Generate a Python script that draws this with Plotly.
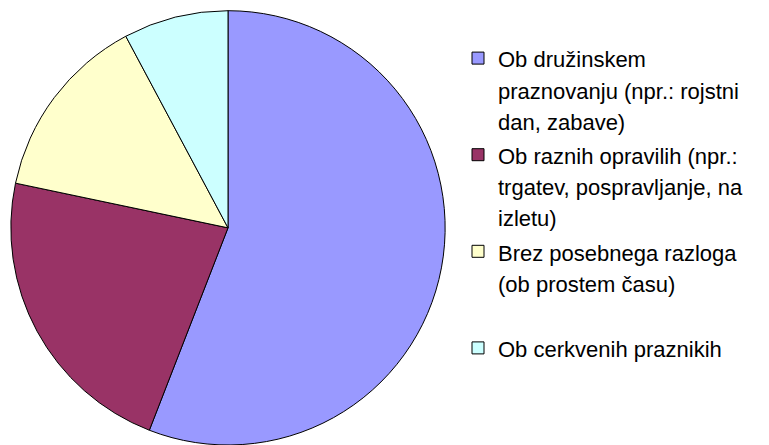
import plotly.graph_objects as go

labels = [
    "Ob družinskem<br>praznovanju (npr.: rojstni<br>dan, zabave)",
    "Ob raznih opravilih (npr.:<br>trgatev, pospravljanje, na<br>izletu)",
    "Brez posebnega razloga<br>(ob prostem času)<br> ",
    "Ob cerkvenih praznikih<br> <br> ",
]
values = [55.9, 22.4, 13.9, 7.8]
colors = ["#9999FF", "#993366", "#FFFFCC", "#CCFFFF"]

W, H = 769, 445
fig = go.Figure(go.Pie(
    labels=[f'<span style="font-size:22px">{l}</span>' for l in labels],
    values=values,
    sort=False,
    direction="clockwise",
    rotation=0,
    textinfo="none",
    hoverinfo="label+percent",
    marker=dict(colors=colors, line=dict(color="#000000", width=1)),
    domain=dict(x=[10.7 / W, 445.3 / W], y=[0, 1 - 10.7 / H]),
))
fig.update_layout(
    width=W, height=H,
    margin=dict(l=0, r=0, t=0, b=0),
    paper_bgcolor="white",
    plot_bgcolor="white",
    showlegend=True,
    legend=dict(
        x=458 / W, xanchor="left",
        y=1 - 36 / H, yanchor="top",
        font=dict(family="Liberation Sans, Arial, sans-serif", size=24, color="#000000"),
        valign="top",
        itemwidth=30,
        bgcolor="rgba(0,0,0,0)",
        tracegroupgap=0,
    ),
)
fig.write_html(
    "out.html",
    config={"displayModeBar": False},
    post_script="document.body.style.margin='0px';",
)
